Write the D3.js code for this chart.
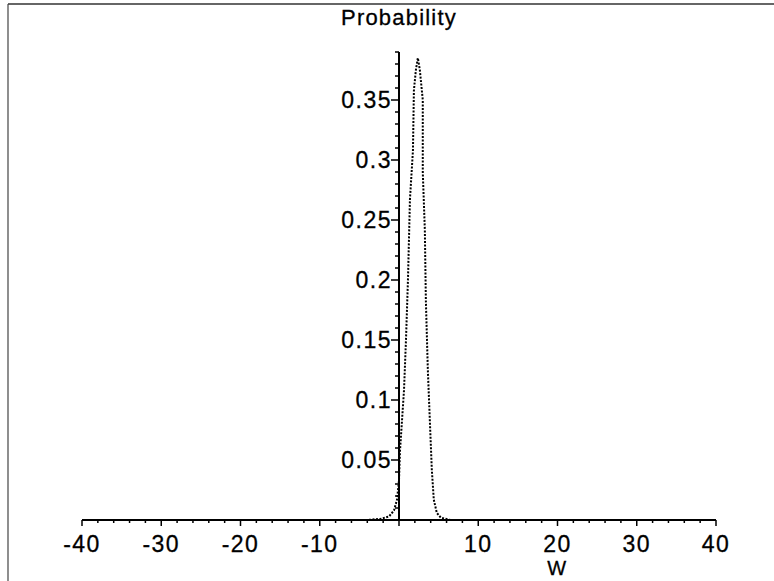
<!DOCTYPE html>
<html>
<head>
<meta charset="utf-8">
<script src="https://cdn.jsdelivr.net/npm/d3@7"></script>
<style>
  body { margin: 0; background: #fff; }
  svg text { font-family: "Liberation Sans", Arial, sans-serif; fill: #000; stroke: #000; stroke-width: 0.3; }
  .tick-label { font-size: 23px; letter-spacing: 1.5px; }
  .title { font-size: 22px; letter-spacing: 1.2px; }
</style>
</head>
<body>
<svg width="774" height="581"></svg>
<script>
// curve
const wValues = [-40, -10, -4, -2.3, -1.25, -0.63, -0.25, 0, 0.13, 0.38, 0.63, 0.88, 1.13, 1.38, 1.76, 1.88, 2.13, 2.38, 2.63, 3.0, 3.0, 3.26, 3.39, 3.64, 3.89, 4.14, 4.39, 4.77, 5.27, 6.5, 10, 40];
const probValues = [0, 0, 0, 0.001, 0.003, 0.008, 0.017, 0.033, 0.058, 0.083, 0.108, 0.15, 0.2, 0.267, 0.308, 0.358, 0.375, 0.385, 0.375, 0.35, 0.29, 0.242, 0.183, 0.125, 0.083, 0.042, 0.017, 0.006, 0.002, 0, 0, 0];
const xTicks = [-40, -30, -20, -10, 10, 20, 30, 40];
const yTicks = [0.05, 0.1, 0.15, 0.2, 0.25, 0.3, 0.35];

function whenLoaded(){
    const svg = d3.select('svg');
    const data = wValues.map((w, i) => ({w: w, p: probValues[i]}));

    const xScale = d3.scaleLinear().domain([-40, 40]).range([82, 716]);
    const yScale = d3.scaleLinear().domain([0, 0.35]).range([520, 100]);

    // frame
    svg.append('line').attr('x1', 8).attr('y1', 4).attr('x2', 774).attr('y2', 4)
        .attr('stroke', '#333').attr('stroke-width', 1.5);
    svg.append('line').attr('x1', 8).attr('y1', 4).attr('x2', 8).attr('y2', 581)
        .attr('stroke', '#444').attr('stroke-width', 1.2);

    const x0 = xScale(0), y0 = yScale(0);

    // x axis
    svg.append('line').attr('x1', xScale(-40)).attr('x2', xScale(40))
        .attr('y1', y0).attr('y2', y0).attr('stroke', '#000').attr('stroke-width', 2);
    svg.selectAll('.xminor').data(d3.range(-40, 41, 2)).enter().append('line')
        .attr('x1', d => xScale(d)).attr('x2', d => xScale(d))
        .attr('y1', y0).attr('y2', d => y0 + (d % 10 === 0 ? 6 : 3))
        .attr('stroke', '#000').attr('stroke-width', 1.5);
    svg.selectAll('.xlab').data(xTicks).enter().append('text')
        .attr('class', 'tick-label')
        .attr('x', d => xScale(d)).attr('y', 552)
        .attr('text-anchor', 'middle')
        .text(d => d);
    svg.append('text').attr('class', 'tick-label')
        .attr('x', xScale(20)).attr('y', 575).attr('text-anchor', 'middle')
        .style('font-size', '20px')
        .text('W');

    // y axis
    svg.append('line').attr('x1', x0).attr('x2', x0)
        .attr('y1', y0).attr('y2', yScale(0.39)).attr('stroke', '#000').attr('stroke-width', 2);
    svg.selectAll('.yminor').data(d3.range(1, 40)).enter().append('line')
        .attr('x1', x0).attr('x2', d => x0 - (d % 5 === 0 ? 8 : 4))
        .attr('y1', d => yScale(d / 100)).attr('y2', d => yScale(d / 100))
        .attr('stroke', '#000').attr('stroke-width', 1.5);
    svg.selectAll('.ylab').data(yTicks).enter().append('text')
        .attr('class', 'tick-label')
        .attr('x', x0 - 7).attr('y', d => yScale(d) + 8)
        .attr('text-anchor', 'end')
        .text(d => d);
    svg.append('text').attr('class', 'title')
        .attr('x', x0).attr('y', 25).attr('text-anchor', 'middle')
        .text('Probability');

    // curve
    const line = d3.line().x(d => xScale(d.w)).y(d => yScale(d.p));
    svg.append('path').attr('d', line(data))
        .attr('fill', 'none').attr('stroke', '#000')
        .attr('stroke-width', 2).attr('stroke-dasharray', '2,1.5');
}

window.onload = whenLoaded;
</script>
</body>
</html>
